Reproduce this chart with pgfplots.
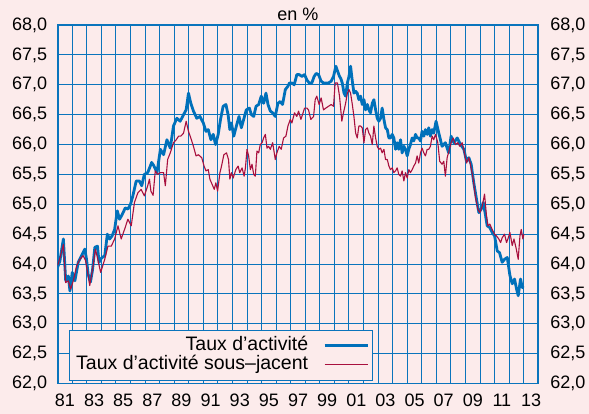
\documentclass[border=0pt]{standalone}
\usepackage{fontspec}
\setmainfont{Liberation Sans}
\usepackage{pgfplots}
\pgfplotsset{compat=1.18}
\usepackage{pgfplotstable}
\definecolor{bgpink}{RGB}{252,235,235}
\definecolor{gridblue}{RGB}{10,116,188}
\definecolor{lineblue}{RGB}{0,112,186}
\definecolor{linered}{RGB}{168,16,62}

\pgfplotstableread{
x y
1981.00 63.95
1981.15 64.05
1981.39 64.42
1981.55 63.72
1981.73 63.80
1981.84 63.55
1982.00 63.86
1982.18 63.72
1982.41 64.03
1982.64 64.14
1982.86 64.25
1982.98 64.08
1983.09 63.83
1983.25 63.70
1983.39 63.90
1983.55 64.28
1983.73 64.30
1983.84 64.03
1984.00 64.10
1984.23 64.14
1984.41 64.50
1984.57 64.42
1984.73 64.47
1984.91 64.58
1985.09 64.89
1985.25 64.75
1985.43 64.83
1985.64 64.94
1985.82 64.92
1986.00 65.00
1986.16 65.14
1986.39 65.39
1986.61 65.39
1986.77 65.31
1986.95 65.50
1987.18 65.53
1987.36 65.64
1987.45 65.70
1987.59 65.65
1987.82 65.53
1988.05 65.92
1988.27 65.83
1988.50 66.08
1988.73 65.94
1988.95 66.31
1989.18 66.44
1989.41 66.39
1989.64 66.50
1989.82 66.58
1989.98 66.86
1990.14 66.69
1990.32 66.56
1990.55 66.44
1990.77 66.47
1991.00 66.36
1991.18 66.22
1991.34 66.25
1991.52 66.08
1991.68 66.17
1991.84 66.00
1992.02 66.17
1992.18 66.42
1992.36 66.64
1992.55 66.67
1992.70 66.50
1992.82 66.25
1992.93 66.36
1993.09 66.14
1993.27 66.31
1993.45 66.47
1993.61 66.28
1993.77 66.42
1993.95 66.58
1994.16 66.61
1994.30 66.50
1994.46 66.47
1994.62 66.64
1994.80 66.67
1994.98 66.81
1995.14 66.69
1995.30 66.86
1995.44 66.67
1995.60 66.56
1995.76 66.53
1995.94 66.47
1996.12 66.69
1996.28 66.72
1996.44 66.67
1996.63 66.92
1996.79 66.97
1996.92 67.03
1997.08 67.03
1997.24 67.00
1997.42 67.17
1997.58 67.17
1997.77 67.14
1997.95 67.17
1998.11 67.08
1998.27 67.03
1998.45 67.03
1998.61 67.14
1998.75 67.19
1998.91 67.17
1999.09 67.06
1999.25 67.03
1999.41 67.03
1999.59 67.03
1999.78 67.06
1999.94 67.14
2000.10 67.31
2000.23 67.22
2000.35 67.14
2000.43 67.11
2000.54 67.03
2000.66 66.86
2000.77 66.81
2000.89 67.03
2001.00 67.14
2001.11 67.31
2001.23 67.06
2001.34 66.86
2001.46 66.89
2001.57 66.86
2001.68 66.75
2001.80 66.81
2001.91 66.67
2002.03 66.75
2002.14 66.58
2002.26 66.67
2002.37 66.58
2002.48 66.53
2002.60 66.69
2002.71 66.75
2002.83 66.58
2002.94 66.44
2003.05 66.39
2003.17 66.44
2003.28 66.61
2003.40 66.42
2003.51 66.28
2003.63 66.25
2003.74 66.11
2003.85 66.11
2003.97 66.17
2004.08 66.11
2004.20 65.92
2004.31 66.03
2004.42 65.92
2004.54 66.08
2004.65 65.86
2004.77 65.97
2004.88 65.92
2005.00 65.81
2005.11 65.92
2005.22 66.00
2005.34 66.11
2005.45 66.06
2005.57 66.17
2005.68 66.11
2005.79 66.11
2005.91 66.06
2006.02 66.22
2006.14 66.14
2006.25 66.25
2006.37 66.17
2006.48 66.28
2006.59 66.14
2006.71 66.25
2006.82 66.19
2006.98 66.39
2007.17 66.19
2007.39 65.97
2007.62 66.03
2007.85 65.86
2008.01 66.14
2008.20 66.03
2008.43 66.11
2008.66 66.00
2008.89 65.92
2009.07 65.72
2009.23 65.78
2009.39 65.67
2009.57 65.36
2009.76 65.08
2009.92 64.86
2010.08 64.92
2010.22 65.03
2010.38 64.81
2010.49 64.64
2010.67 64.61
2010.83 64.53
2011.00 64.47
2011.18 64.22
2011.34 64.19
2011.52 64.03
2011.68 64.08
2011.87 64.11
2012.05 63.81
2012.21 63.67
2012.37 63.75
2012.51 63.58
2012.62 63.47
2012.78 63.75
2012.90 63.61
2013.01 63.60
}\tauxact

\pgfplotstableread{
x y
1981.00 63.98
1981.15 64.10
1981.39 64.33
1981.55 63.69
1981.73 63.72
1981.89 63.58
1982.07 63.72
1982.30 63.97
1982.52 64.08
1982.75 64.14
1982.91 64.06
1983.09 63.81
1983.20 63.64
1983.43 63.97
1983.59 64.25
1983.77 64.06
1983.95 63.86
1984.23 64.08
1984.45 64.30
1984.68 64.30
1984.91 64.42
1985.14 64.64
1985.36 64.42
1985.59 64.58
1985.82 64.75
1986.05 64.64
1986.27 65.03
1986.50 65.19
1986.73 65.25
1986.95 65.14
1987.18 65.31
1987.30 65.42
1987.40 65.22
1987.55 65.15
1987.70 65.56
1987.86 65.50
1988.05 65.53
1988.27 65.53
1988.39 65.31
1988.55 65.75
1988.73 65.86
1988.95 66.03
1989.14 66.08
1989.30 66.14
1989.45 66.14
1989.64 66.19
1989.82 66.39
1989.98 66.22
1990.14 66.11
1990.32 65.97
1990.50 65.81
1990.66 65.83
1990.89 65.78
1991.05 65.64
1991.18 65.56
1991.34 65.58
1991.45 65.42
1991.61 65.33
1991.75 65.25
1991.86 65.36
1991.98 65.22
1992.14 65.53
1992.25 65.64
1992.41 65.83
1992.59 65.86
1992.73 65.75
1992.82 65.42
1992.93 65.53
1993.05 65.44
1993.23 65.58
1993.39 65.64
1993.50 65.53
1993.66 65.61
1993.80 65.47
1993.89 65.61
1994.00 65.92
1994.11 65.81
1994.23 65.58
1994.34 65.67
1994.46 65.50
1994.57 65.47
1994.68 65.89
1994.80 65.86
1994.91 66.00
1995.03 66.03
1995.14 66.11
1995.26 66.17
1995.37 65.94
1995.48 65.97
1995.60 65.92
1995.76 66.03
1995.94 65.75
1996.05 65.86
1996.21 65.97
1996.35 65.92
1996.51 66.11
1996.67 66.14
1996.81 66.31
1996.97 66.42
1997.08 66.36
1997.26 66.53
1997.42 66.47
1997.54 66.56
1997.70 66.42
1997.81 66.50
1997.95 66.61
1998.11 66.61
1998.22 66.58
1998.38 66.42
1998.57 66.47
1998.68 66.75
1998.79 66.81
1998.95 66.67
1999.09 66.78
1999.25 66.58
1999.41 66.61
1999.59 66.64
1999.78 66.67
1999.94 66.64
2000.05 67.03
2000.21 67.03
2000.35 66.81
2000.51 66.39
2000.62 66.53
2000.77 66.69
2000.89 66.86
2001.00 66.92
2001.11 66.86
2001.23 66.67
2001.34 66.47
2001.46 66.19
2001.57 66.11
2001.68 66.31
2001.80 66.31
2001.91 66.28
2002.03 66.03
2002.14 66.25
2002.26 66.28
2002.37 66.19
2002.48 66.14
2002.60 66.00
2002.71 66.31
2002.83 66.11
2002.94 65.97
2003.05 65.92
2003.17 65.94
2003.28 65.86
2003.40 65.92
2003.51 65.75
2003.63 65.75
2003.74 65.64
2003.85 65.58
2003.97 65.61
2004.08 65.53
2004.20 65.56
2004.31 65.61
2004.42 65.50
2004.54 65.47
2004.65 65.56
2004.77 65.39
2004.88 65.53
2005.00 65.44
2005.11 65.58
2005.22 65.53
2005.34 65.58
2005.45 65.64
2005.57 65.69
2005.68 65.81
2005.79 65.69
2005.91 65.86
2006.02 65.94
2006.14 65.86
2006.25 65.81
2006.37 65.92
2006.48 65.92
2006.59 65.97
2006.71 66.14
2006.82 66.08
2006.94 66.17
2007.10 66.03
2007.23 65.72
2007.39 65.67
2007.51 65.72
2007.62 65.47
2007.74 65.78
2007.90 65.92
2008.01 66.03
2008.15 66.11
2008.31 66.00
2008.47 66.03
2008.61 65.97
2008.77 66.03
2008.93 65.86
2009.07 65.69
2009.23 65.78
2009.34 65.67
2009.53 65.42
2009.69 65.11
2009.85 64.92
2009.99 64.86
2010.15 64.97
2010.31 65.17
2010.44 64.81
2010.54 64.64
2010.67 64.67
2010.83 64.58
2011.00 64.50
2011.13 64.47
2011.29 64.42
2011.41 64.36
2011.52 64.44
2011.68 64.50
2011.82 64.36
2011.94 64.44
2012.05 64.53
2012.21 64.31
2012.33 64.42
2012.49 64.25
2012.62 64.08
2012.74 64.47
2012.83 64.58
2012.94 64.42
2013.01 64.50
}\tauxsj

\newcommand{\lbl}{\fontsize{18bp}{22bp}\selectfont}
\newcommand{\lgd}{\fontsize{19.5bp}{22bp}\selectfont}

\begin{document}
\begin{tikzpicture}
\fill[bgpink] (0,0) rectangle (589bp,414bp);
\begin{axis}[
  at={(57.7bp,30.4bp)}, anchor=south west,
  scale only axis, width=480.6bp, height=358.6bp,
  xmin=1981, xmax=2014, ymin=62, ymax=68,
  axis background/.style={fill=bgpink},
  axis line style={draw=gridblue, line width=1.7bp},
  xtick={1981.5,1983.5,...,2013.5},
  xticklabels={81,83,85,87,89,91,93,95,97,99,01,03,05,07,09,11,13},
  minor xtick={1982,1983,...,2013},
  xminorgrids=true,
  ytick={62,62.5,...,68},
  ymajorgrids=true,
  minor grid style={draw=gridblue, line width=1.0bp},
  major grid style={draw=gridblue, line width=1.0bp},
  major tick length=0pt, minor tick length=0pt,
  /pgf/number format/assume math mode=true,
  tick label style={font=\lbl, text=black},
  yticklabel style={/pgf/number format/.cd, fixed, fixed zerofill, precision=1, use comma, /tikz/.cd, xshift=-7bp},
  xticklabel style={yshift=-6.6bp},
  title={en \%},
  title style={font=\lbl, at={(0.5,1)}, anchor=base, yshift=-1.4bp, inner sep=0pt},
  legend style={at={(0.0241,0.0081)}, anchor=south west, fill=bgpink, draw=gridblue, line width=0.8bp,
    font=\lgd, inner xsep=3bp, inner ysep=6bp, row sep=0bp, column sep=11.5bp,
    nodes={text height=14bp, text depth=5bp, inner ysep=0bp, inner xsep=3.5bp}},
  legend cell align=right,
  legend plot pos=right,
  legend image code/.code={\draw[#1] (0bp,0bp) -- (34bp,0bp); \path (34bp,0bp) -- (43bp,0bp);},
]
\addplot[lineblue, line width=2.8bp, line join=round] table[x=x,y=y] {\tauxact};
\addlegendentry{Taux d’activité}
\addplot[linered, line width=1.1bp, line join=round] table[x=x,y=y] {\tauxsj};
\addlegendentry{Taux d’activité sous–jacent}
\end{axis}
\begin{axis}[
  at={(57.7bp,30.4bp)}, anchor=south west,
  scale only axis, width=480.6bp, height=358.6bp,
  xmin=1981, xmax=2014, ymin=62, ymax=68,
  axis line style={draw=none},
  xtick=\empty,
  ytick={62,62.5,...,68},
  yticklabel pos=right,
  major tick length=0pt,
  /pgf/number format/assume math mode=true,
  tick label style={font=\lbl, text=black},
  yticklabel style={/pgf/number format/.cd, fixed, fixed zerofill, precision=1, use comma, /tikz/.cd, xshift=8.5bp},
]
\end{axis}
\pgfresetboundingbox
\path (0,0) rectangle (589bp,414bp);
\end{tikzpicture}
\end{document}
